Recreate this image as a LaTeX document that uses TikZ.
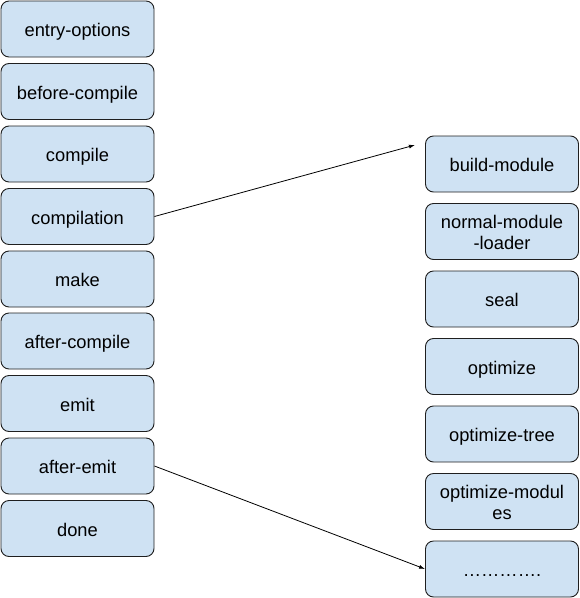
\documentclass[tikz,border=0pt]{standalone}
\usepackage{fontspec}
\setmainfont{Liberation Sans}
\usetikzlibrary{arrows.meta}
\definecolor{boxfill}{HTML}{CFE2F3}
\definecolor{boxline}{HTML}{1F1F1F}
\begin{document}
\begin{tikzpicture}[x=1pt,y=-1pt,
  hook/.style={draw=boxline, fill=boxfill, line width=0.9pt, rounded corners=8pt,
    minimum width=153pt, minimum height=56pt, align=center, inner sep=0pt,
    text height=17pt, text depth=1.6pt,
    font=\fontsize{18.3}{21}\selectfont},
  twoline/.style={text height=38pt},
  link/.style={draw=black, line width=0.8pt, -{Latex[length=6pt,width=4pt]}}]
\useasboundingbox (0,0) rectangle (580,598);
\node[hook] (entry) at (77.5,29) {entry-options};
\node[hook] (before) at (77.5,91.5) {before-compile};
\node[hook] (compile) at (77.5,154) {compile};
\node[hook] (compilation) at (77.5,216.5) {compilation};
\node[hook] (make) at (77.5,279) {make};
\node[hook] (aftercompile) at (77.5,341) {after-compile};
\node[hook] (emit) at (77.5,403.5) {emit};
\node[hook] (afteremit) at (77.5,466) {after-emit};
\node[hook] (done) at (77.5,528.5) {done};
\node[hook] (build) at (502,164) {build-module};
\node[hook,twoline] (normal) at (502,231.5) {normal-module\\-loader};
\node[hook] (seal) at (502,299) {seal};
\node[hook] (optimize) at (502,366.5) {optimize};
\node[hook] (opttree) at (502,434) {optimize-tree};
\node[hook,twoline] (optmod) at (502,501.5) {optimize-modul\\es};
\node[hook] (dots) at (502,569) {………….};
\coordinate (buildend) at (415,145);
\draw[link] (compilation.east) -- (buildend);
\draw[link] (afteremit.east) -- (dots.west);
\end{tikzpicture}
\end{document}
